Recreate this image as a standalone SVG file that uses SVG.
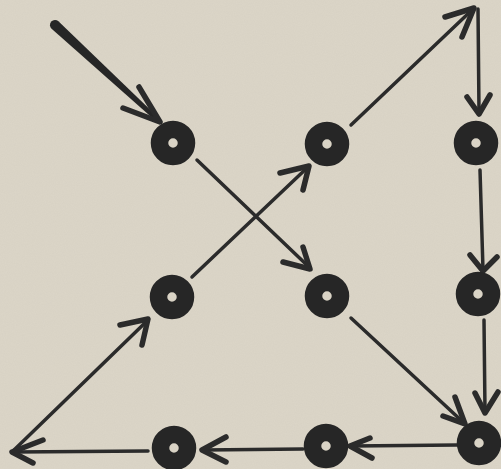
<svg xmlns="http://www.w3.org/2000/svg" width="501" height="469" viewBox="0 0 501 469">
<defs>
<style>
.dot{fill:none;stroke:#262626;stroke-width:17.5}
.ln{fill:none;stroke:#2b2b2b;stroke-width:3.5;stroke-linecap:round}
.hd{fill:none;stroke:#2b2b2b;stroke-width:5.5;stroke-linecap:round;stroke-linejoin:round}
</style>
<filter id="paper" x="0" y="0" width="100%" height="100%">
<feTurbulence type="fractalNoise" baseFrequency="0.9" numOctaves="2" seed="3" result="n"/>
<feColorMatrix in="n" type="matrix" values="0 0 0 0 0.45  0 0 0 0 0.42  0 0 0 0 0.36  0 0 0 0.12 0"/>
</filter>
</defs>
<rect width="501" height="469" fill="#dcd6c8"/>
<rect width="501" height="469" filter="url(#paper)"/>
<g id="connectors">
<path d="M51.6,28.7 L158.6,123.5 L161.4,120.5 L58.4,21.3 A5,5 0 0 0 51.6,28.7 Z" fill="#262626"/>
<path class="hd" d="M139,87 L160,122 L123,108"/>
<path class="ln" d="M197,160 L310,268"/>
<path class="hd" d="M303,247 L310,269 L283,262"/>
<path class="ln" d="M351,318 L464,423"/>
<path class="hd" d="M455,397 L465,424 L443,416"/>
<path class="ln" d="M457,445 L351,446"/>
<path class="hd" d="M370,438 L350,446 L372,458"/>
<path class="ln" d="M303,449 L203,450"/>
<path class="hd" d="M226,437 L202,450 L226,462"/>
<path class="ln" d="M148,451 L13,452"/>
<path class="hd" d="M43,440 L12,452 L33,463"/>
<path class="ln" d="M13,451 L148,320"/>
<path class="hd" d="M120,325 L148,319 L142,345"/>
<path class="ln" d="M192,277 L308,167"/>
<path class="hd" d="M280,173 L309,166 L303,190"/>
<path class="ln" d="M351,125 L473,9"/>
<path class="hd" d="M445,17 L474,8 L462,37"/>
<path class="ln" d="M478,9 L479,112"/>
<path class="hd" d="M467,97 L479,114 L490,95"/>
<path class="ln" d="M480,170 L483,270"/>
<path class="hd" d="M470,255 L483,271 L497,257"/>
<path class="ln" d="M484,320 L485,412"/>
<path class="hd" d="M475,393 L485,413 L498,392"/>
</g>
<g id="d1"><circle class="dot" cx="173" cy="143" r="13.5"/></g>
<g id="d2"><circle class="dot" cx="327" cy="144" r="13.5"/></g>
<g id="d3"><circle class="dot" cx="476" cy="143" r="13.5"/></g>
<g id="d4"><circle class="dot" cx="172" cy="297" r="13.5"/></g>
<g id="d5"><circle class="dot" cx="327" cy="296" r="13.5"/></g>
<g id="d6"><circle class="dot" cx="478" cy="294" r="13.5"/></g>
<g id="d7"><circle class="dot" cx="174" cy="448" r="13.5"/></g>
<g id="d8"><circle class="dot" cx="326" cy="446" r="13.5"/></g>
<g id="d9"><circle class="dot" cx="479" cy="443" r="13.5"/></g>
</svg>
